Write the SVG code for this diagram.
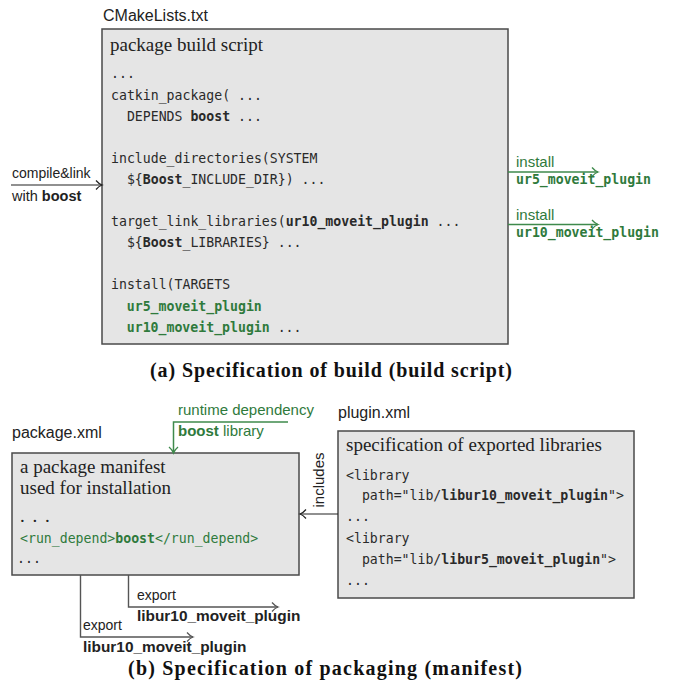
<svg xmlns="http://www.w3.org/2000/svg" width="674" height="692" viewBox="0 0 674 692">
<style>
.box{fill:#e5e5e5;stroke:#4a4a4a;stroke-width:1.5}
.sans{font-family:"Liberation Sans",Arial,sans-serif;font-size:14px;fill:#222}
.gs{font-size:15px}
.bs{font-size:15.4px}
.lbl{font-family:"Liberation Sans",Arial,sans-serif;font-size:16px;fill:#222}
.ser{font-family:"Liberation Serif","Times New Roman",serif;font-size:19px;fill:#222}
.mono{font-family:"DejaVu Sans Mono","Liberation Mono",monospace;font-size:13.2px;fill:#2a2a2a}
.cap{font-family:"Liberation Serif","Times New Roman",serif;font-size:20px;font-weight:bold;fill:#111}
.b{font-weight:bold}
.g{fill:#2f7a3c}
.ln{fill:none;stroke:#222;stroke-width:1.2}
.lg{fill:none;stroke:#3f8a4c;stroke-width:1.5}
.lgr{fill:none;stroke:#555;stroke-width:1.4}
</style>
<defs>
<marker id="ak" markerUnits="userSpaceOnUse" markerWidth="12" markerHeight="12" refX="10" refY="6" orient="auto" overflow="visible"><path d="M4,1.5 Q7,5 10,6 Q7,7 4,10.5" fill="none" stroke="#222" stroke-width="1.2"/></marker>
<marker id="ag" markerUnits="userSpaceOnUse" markerWidth="12" markerHeight="12" refX="10" refY="6" orient="auto" overflow="visible"><path d="M4,1.5 Q7,5 10,6 Q7,7 4,10.5" fill="none" stroke="#3f8a4c" stroke-width="1.3"/></marker>
<marker id="agr" markerUnits="userSpaceOnUse" markerWidth="12" markerHeight="12" refX="10" refY="6" orient="auto" overflow="visible"><path d="M4,1.5 Q7,5 10,6 Q7,7 4,10.5" fill="none" stroke="#555" stroke-width="1.2"/></marker>
</defs>
<rect width="674" height="692" fill="#fff"/>

<g id="cmake">
<text class="lbl" x="103" y="21">CMakeLists.txt</text>
<rect class="box" x="102" y="29" width="406" height="315"/>
<text class="ser" x="110" y="51">package build script</text>
<text class="mono" x="111" y="78">...</text>
<text class="mono" x="111" y="99.5">catkin_package( ...</text>
<text class="mono" x="111" y="120.6" xml:space="preserve">  DEPENDS <tspan class="b">boost</tspan> ...</text>
<text class="mono" x="111" y="162.8">include_directories(SYSTEM</text>
<text class="mono" x="111" y="183.9" xml:space="preserve">  ${<tspan class="b">Boost</tspan>_INCLUDE_DIR}) ...</text>
<text class="mono" x="111" y="226.1">target_link_libraries(<tspan class="b">ur10_moveit_plugin</tspan> ...</text>
<text class="mono" x="111" y="247.2" xml:space="preserve">  ${<tspan class="b">Boost</tspan>_LIBRARIES} ...</text>
<text class="mono" x="111" y="289.4">install(TARGETS</text>
<text class="mono b g" x="126.8" y="310.5">ur5_moveit_plugin</text>
<text class="mono" x="126.8" y="331.6"><tspan class="b g">ur10_moveit_plugin</tspan> ...</text>
</g>

<g id="package">
<text class="lbl" x="12" y="438">package.xml</text>
<rect class="box" x="12" y="453" width="287" height="122"/>
<text class="ser" x="20" y="473">a package manifest</text>
<text class="ser" x="20" y="494">used for installation</text>
<text class="ser" x="20" y="522" style="letter-spacing:1.5px">. . .</text>
<text class="mono g" x="20" y="543">&lt;run_depend&gt;<tspan class="b">boost</tspan>&lt;/run_depend&gt;</text>
<text class="mono" x="17" y="563">...</text>
</g>

<g id="plugin">
<text class="lbl" x="338" y="418">plugin.xml</text>
<rect class="box" x="338" y="431" width="296" height="167"/>
<text class="ser" x="346" y="451">specification of exported libraries</text>
<text class="mono" x="346" y="480">&lt;library</text>
<text class="mono" x="346" y="500" xml:space="preserve">  path="lib/<tspan class="b">libur10_moveit_plugin</tspan>"&gt;</text>
<text class="mono" x="346" y="521">...</text>
<text class="mono" x="346" y="543">&lt;library</text>
<text class="mono" x="346" y="564" xml:space="preserve">  path="lib/<tspan class="b">libur5_moveit_plugin</tspan>"&gt;</text>
<text class="mono" x="346" y="585">...</text>
</g>

<g id="connectors">
<line class="ln" x1="11" y1="185" x2="102" y2="185" marker-end="url(#ak)"/>
<line class="lg" x1="508" y1="172" x2="598" y2="172" marker-end="url(#ag)"/>
<line class="lg" x1="508" y1="224.5" x2="598" y2="224.5" marker-end="url(#ag)"/>
<polyline class="lg" points="288,422 173.5,422 173.5,453" marker-end="url(#ag)"/>
<line class="ln" x1="338" y1="514" x2="300" y2="514" marker-end="url(#ak)"/>
<polyline class="lgr" points="128.5,575 128.5,607 278,607" marker-end="url(#agr)"/>
<polyline class="lgr" points="80.5,575 80.5,637 193,637" marker-end="url(#agr)"/>
</g>

<g id="labels">
<text class="sans" x="12" y="178">compile&amp;link</text>
<text class="sans" x="12" y="201" style="font-size:14.5px">with <tspan class="b">boost</tspan></text>
<text class="sans gs g" x="516" y="167">install</text>
<text class="mono b g" x="516" y="184">ur5_moveit_plugin</text>
<text class="sans gs g" x="516" y="220">install</text>
<text class="mono b g" x="516" y="237">ur10_moveit_plugin</text>
<text class="sans gs g" x="178" y="415">runtime dependency</text>
<text class="sans gs g" x="178" y="436"><tspan class="b">boost</tspan> library</text>
<text class="sans" transform="translate(324,480) rotate(-90)" text-anchor="middle" style="font-size:15px">includes</text>
<text class="sans" x="137" y="600">export</text>
<text class="sans bs b" x="137" y="621">libur10_moveit_plugin</text>
<text class="sans" x="83" y="630">export</text>
<text class="sans bs b" x="83" y="652">libur10_moveit_plugin</text>
<text class="cap" x="150" y="377" textLength="362" lengthAdjust="spacing">(a) Specification of build (build script)</text>
<text class="cap" x="128" y="675" textLength="394" lengthAdjust="spacing">(b) Specification of packaging (manifest)</text>
</g>
</svg>
